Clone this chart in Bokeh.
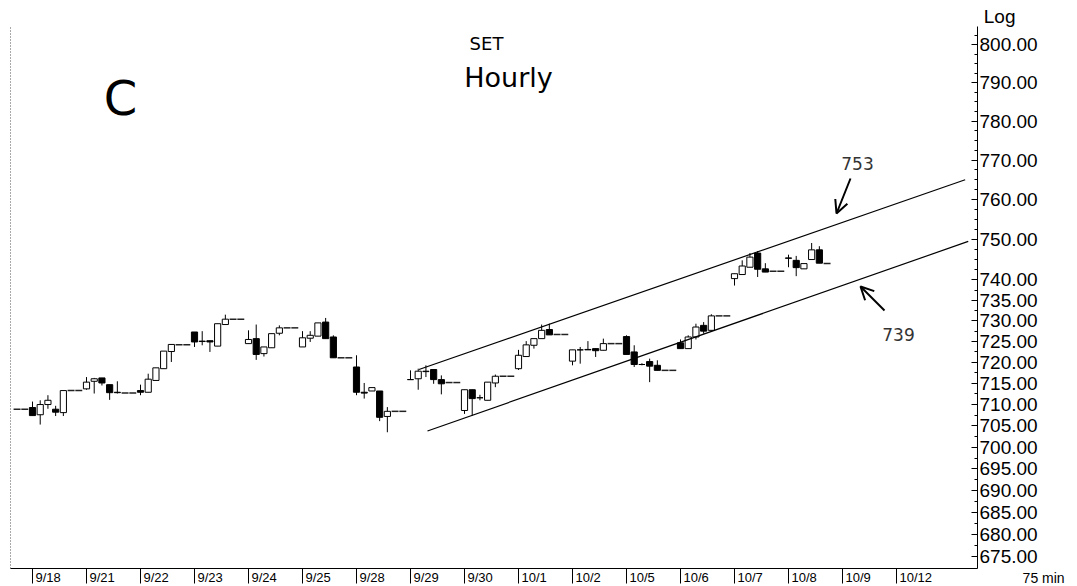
import math
from bokeh.plotting import figure
from bokeh.models import (Range1d, FixedTicker, PrintfTickFormatter, LogAxis,
                          ColumnDataSource, Label, Arrow, OpenHead, Title)
from bokeh.embed import file_html
from bokeh.resources import INLINE

# ---------------- data ----------------
days = ["9/17", "9/18", "9/21", "9/22", "9/23", "9/24", "9/25", "9/28",
        "9/29", "9/30", "10/1", "10/2", "10/5", "10/6", "10/7", "10/8"]
first_slot = [5] + [0] * 15
bars_per_day = [2] + [7] * 14 + [6]

opens = [708.9, 708.9,
         709.3, 707.6, 710.0, 708.9, 708.1, 713.3, 713.3,
         713.7, 715.5, 716.3, 714.7, 712.9, 712.7, 712.7,
         713.3, 712.9, 715.7, 718.5, 722.6, 724.2, 724.2,
         727.3, 725.0, 725.2, 723.9, 729.1, 730.4, 730.4,
         724.5, 725.7, 722.1, 723.5, 727.0, 728.3, 728.3,
         723.7, 725.8, 726.3, 729.7, 726.1, 721.1, 721.1,
         718.9, 712.9, 713.2, 713.2, 707.2, 708.4, 708.4,
         715.9, 716.1, 717.8, 718.3, 715.9, 715.2, 715.2,
         708.6, 713.5, 711.6, 711.0, 715.1, 716.7, 716.7,
         718.5, 721.4, 724.1, 725.7, 727.9, 726.7, 726.7,
         720.3, 723.0, 723.0, 723.3, 722.9, 724.5, 724.5,
         726.2, 722.5, 719.5, 720.2, 719.3, 718.1, 718.1,
         724.7, 723.3, 726.1, 728.9, 727.7, 731.2, 731.2,
         740.3, 741.3, 743.1, 746.6, 742.7, 742.1, 742.1,
         745.4, 744.8, 742.7, 745.0, 747.4, 744.0]
highs = [708.9, 708.9,
         710.7, 711.0, 712.2, 709.7, 713.3, 713.3, 713.3,
         716.5, 716.3, 716.3, 714.7, 715.5, 712.7, 712.7,
         714.7, 717.3, 718.7, 722.7, 724.3, 724.2, 724.2,
         727.3, 727.5, 725.2, 729.3, 731.5, 730.4, 730.4,
         727.7, 729.1, 723.7, 726.9, 728.9, 728.3, 728.3,
         727.5, 727.5, 729.5, 730.7, 726.5, 721.1, 721.1,
         721.7, 715.1, 714.0, 713.2, 709.4, 708.4, 708.4,
         718.1, 718.5, 719.3, 718.3, 716.9, 715.2, 715.2,
         713.5, 713.5, 712.3, 715.3, 717.1, 716.7, 716.7,
         723.0, 725.1, 725.7, 729.1, 729.3, 726.7, 726.7,
         723.0, 723.7, 725.1, 723.3, 725.7, 724.5, 724.5,
         726.5, 724.1, 719.8, 720.9, 720.5, 718.1, 718.1,
         725.5, 726.5, 729.3, 729.7, 731.6, 731.2, 731.2,
         741.5, 744.8, 746.6, 747.1, 744.1, 742.1, 742.1,
         746.2, 745.9, 744.0, 749.1, 748.3, 744.0]
lows = [708.9, 708.9,
        707.4, 705.3, 709.0, 707.3, 707.3, 713.3, 713.3,
        713.5, 712.6, 714.5, 711.1, 712.6, 712.7, 712.7,
        712.2, 712.9, 715.7, 718.5, 720.1, 724.2, 724.2,
        723.7, 724.1, 722.5, 723.9, 729.1, 730.4, 730.4,
        724.5, 720.6, 721.4, 723.5, 726.5, 728.3, 728.3,
        723.7, 724.9, 726.3, 725.7, 721.1, 721.1, 721.1,
        712.2, 711.4, 713.2, 706.1, 703.5, 708.4, 708.4,
        715.9, 713.5, 716.5, 714.9, 712.4, 715.2, 715.2,
        707.8, 707.4, 711.0, 711.0, 714.1, 716.7, 716.7,
        718.2, 721.4, 723.3, 725.7, 726.6, 726.7, 726.7,
        719.3, 719.7, 723.0, 721.3, 722.9, 724.5, 724.5,
        721.9, 718.9, 719.3, 715.3, 718.1, 718.1, 718.1,
        723.3, 723.3, 725.5, 726.9, 727.7, 731.2, 731.2,
        738.6, 741.3, 743.1, 740.7, 741.9, 742.1, 742.1,
        743.1, 740.9, 742.7, 745.0, 744.1, 744.0]
closes = [708.9, 708.9,
          707.4, 710.0, 711.0, 708.2, 713.3, 713.3, 713.3,
          715.3, 716.1, 715.1, 712.8, 712.8, 712.7, 712.7,
          712.9, 716.0, 718.7, 722.7, 724.3, 724.2, 724.2,
          724.9, 725.1, 724.9, 729.3, 730.4, 730.4, 730.4,
          725.5, 721.9, 723.7, 726.9, 728.3, 728.3, 728.3,
          725.9, 726.5, 729.5, 725.7, 721.1, 721.1, 721.1,
          712.9, 712.7, 714.0, 707.0, 708.4, 708.4, 708.4,
          715.9, 717.9, 717.9, 715.9, 714.9, 715.2, 715.2,
          713.5, 711.4, 711.6, 715.3, 716.7, 716.7, 716.7,
          721.7, 724.2, 725.7, 727.7, 726.6, 726.7, 726.7,
          723.0, 723.0, 723.1, 722.8, 724.5, 724.5, 724.5,
          721.9, 719.5, 719.5, 719.1, 718.1, 718.1, 718.1,
          723.3, 726.1, 728.5, 727.5, 731.2, 731.2, 731.2,
          741.5, 743.4, 745.6, 742.6, 741.9, 742.1, 742.1,
          745.3, 743.0, 744.0, 747.4, 744.1, 744.0]

axis_days = ["9/18", "9/21", "9/22", "9/23", "9/24", "9/25", "9/28", "9/29",
             "9/30", "10/1", "10/2", "10/5", "10/6", "10/7", "10/8", "10/9", "10/12"]
price_ticks = [675, 680, 685, 690, 695, 700, 705, 710, 715, 720, 725, 730,
               735, 740, 750, 760, 770, 780, 790, 800]

# channel (trend) lines: bar index and price at both ends
channel_x = [[50.1, 120.9], [51.2, 121.3]]
channel_y = [[718.3, 765.0], [703.8, 749.5]]
channel_labels = ["753", "739"]

# ---------------- geometry ----------------
SLOTS = 7
X0, X1 = -2.852, 122.5
Y0, Y1 = 672.4, 804.9
FRAME_LEFT, FRAME_TOP = 10, 26
FRAME_W, FRAME_H = 967, 542
PX_PER_BAR = FRAME_W / (X1 - X0)

xs = []
for d, (s0, n) in enumerate(zip(first_slot, bars_per_day)):
    for j in range(n):
        xs.append(SLOTS * (d - 1) + s0 + j)

candle = dict(x=[], top=[], bottom=[], color=[], hi=[], lo=[])
flat = dict(x0=[], x1=[], y=[])
for x, o, h, l, c in zip(xs, opens, highs, lows, closes):
    if o == h == l == c:
        flat["x0"].append(x - 0.45)
        flat["x1"].append(x + 0.45)
        flat["y"].append(c)
    else:
        candle["x"].append(x)
        candle["top"].append(max(o, c))
        candle["bottom"].append(min(o, c))
        candle["color"].append("white" if c >= o else "black")
        candle["hi"].append(h)
        candle["lo"].append(l)

src = ColumnDataSource(candle)

p = figure(frame_width=FRAME_W, frame_height=FRAME_H, y_axis_type="log",
           x_range=Range1d(X0, X1), y_range=Range1d(Y0, Y1),
           output_backend="svg", toolbar_location=None, y_axis_location="right",
           min_border_left=FRAME_LEFT, min_border_top=FRAME_TOP, min_border_right=100,
           min_border_bottom=18)
p.grid.visible = False
p.outline_line_color = None
p.background_fill_color = "white"
p.border_fill_color = "white"

# wicks, bodies, flat bars
p.segment(x0="x", y0="hi", x1="x", y1="lo", source=src, line_color="black", line_width=1)
p.vbar(x="x", top="top", bottom="bottom", width=0.8, source=src,
       fill_color="color", line_color="black", line_width=1)
p.segment(x0=flat["x0"], y0=flat["y"], x1=flat["x1"], y1=flat["y"],
          line_color="#222222", line_width=1.5)

# channel lines
for cx, cy in zip(channel_x, channel_y):
    p.line(cx, cy, line_color="black", line_width=1.2)

# right price axis
ax = p.yaxis[0]
minor = [v / 2 for v in range(2 * 673, 2 * 805)]
ax.ticker = FixedTicker(ticks=price_ticks, minor_ticks=[m for m in minor if m % 2.5 == 0])
ax.formatter = PrintfTickFormatter(format="%.2f")
ax.major_label_text_font = "Liberation Sans"
ax.major_label_text_font_size = "19px"
ax.major_label_text_color = "black"
ax.major_label_standoff = 2
ax.major_tick_in = 6
ax.major_tick_out = 0
ax.minor_tick_in = 3
ax.minor_tick_out = 0
ax.axis_line_color = "black"

# left dotted edge
left = LogAxis(ticker=FixedTicker(ticks=[]), axis_line_dash="1 2",
               axis_line_color="#555555", major_tick_out=0, minor_tick_out=0,
               major_tick_in=0, minor_tick_in=0, major_label_standoff=0)
p.add_layout(left, "left")

# bottom date axis: tick lines at day starts (minor), labels to the right of them
def label_width_px(s, size=13):
    return size * sum(0.278 if ch == "/" else 0.556 for ch in s)

day_pos = [SLOTS * i for i in range(len(axis_days))]
label_pos = [round(SLOTS * i + (3 + label_width_px(s) / 2) / PX_PER_BAR, 3)
             for i, s in enumerate(axis_days)]
bx = p.xaxis[0]
bx.ticker = FixedTicker(ticks=label_pos, minor_ticks=day_pos)
bx.major_label_overrides = {pos: s for pos, s in zip(label_pos, axis_days)}
bx.major_tick_line_color = None
bx.major_tick_out = 0
bx.major_tick_in = 0
bx.minor_tick_out = 15
bx.minor_tick_in = 0
bx.minor_tick_line_color = "black"
bx.major_label_standoff = -14
bx.major_label_text_font = "Liberation Sans"
bx.major_label_text_font_size = "13px"
bx.major_label_text_color = "black"
bx.axis_line_color = "black"

# texts inside the frame
def px_to_x(px):
    return X0 + (px - FRAME_LEFT) / PX_PER_BAR

def py_to_y(py):
    frac = (FRAME_TOP + FRAME_H - py) / FRAME_H
    return math.exp(math.log(Y0) + frac * (math.log(Y1) - math.log(Y0)))

texts = [("SET", 486, 43, "DejaVu Sans", "18px", "black"),
         ("Hourly", 508, 77, "DejaVu Sans", "27px", "black"),
         ("C", 120, 97, "DejaVu Sans", "48px", "black"),
         (channel_labels[0], 857, 163, "DejaVu Sans", "17px", "#333333"),
         (channel_labels[1], 898, 334, "DejaVu Sans", "17px", "#333333")]
for t, tx, ty, font, size, color in texts:
    p.add_layout(Label(x=px_to_x(tx), y=py_to_y(ty), text=t, text_font=font,
                       text_font_size=size, text_color=color, text_align="center",
                       text_baseline="middle"))

arrows = [((850, 178), (836, 213)), ((884, 310), (860, 286))]
for (sx, sy), (ex, ey) in arrows:
    p.add_layout(Arrow(end=OpenHead(size=13, line_width=2, line_color="black"),
                       x_start=px_to_x(sx), y_start=py_to_y(sy),
                       x_end=px_to_x(ex), y_end=py_to_y(ey),
                       line_width=2, line_color="black"))

# texts outside the frame (axis header and bar interval)
p.add_layout(Title(text="Log", align="right", offset=-38, standoff=0,
                   text_font="Liberation Sans", text_font_size="19px",
                   text_font_style="normal", text_color="black"), "above")
p.add_layout(Title(text="75  min", align="right", offset=-91, standoff=-35,
                   vertical_align="top", text_font="Liberation Sans",
                   text_font_size="14px", text_font_style="normal",
                   text_color="black"), "below")

open("out.html", "w").write(file_html(p, INLINE))
